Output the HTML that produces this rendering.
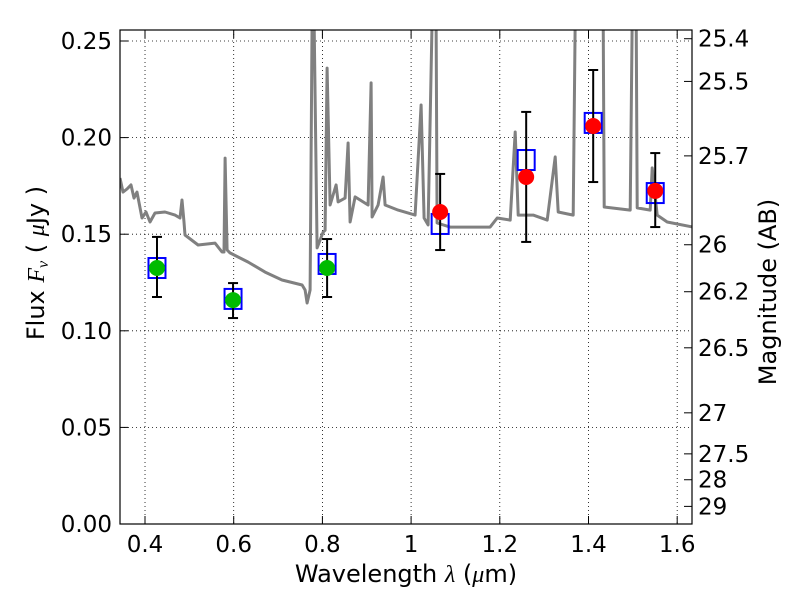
<!DOCTYPE html>
<html><head><meta charset="utf-8"><style>
body{margin:0;background:#fff}
svg text{font-family:"DejaVu Sans","Liberation Sans",sans-serif;fill:#000}
</style></head><body>
<svg id="c" width="800" height="600" xmlns="http://www.w3.org/2000/svg"></svg>
<script>
const xTicks=[0.4,0.6,0.8,1.0,1.2,1.4,1.6];
const xTickLabels=["0.4","0.6","0.8","1","1.2","1.4","1.6"];
const yTicks=[0,0.05,0.10,0.15,0.20,0.25];
const yTickLabels=["0.00","0.05","0.10","0.15","0.20","0.25"];
const magTicks=[25.4,25.5,25.7,26,26.2,26.5,27,27.5,28,29];
const specLam=[0.3436,0.3504,0.3594,0.3684,0.3752,0.3820,0.3932,0.4023,0.4113,0.4226,0.4451,0.4677,0.4790,0.4835,0.4880,0.4902,0.5196,0.5579,0.5737,0.5782,0.5805,0.5850,0.5917,0.6323,0.6707,0.7090,0.7542,0.7609,0.7654,0.7722,0.7767,0.7812,0.7880,0.8015,0.8060,0.8106,0.8173,0.8309,0.8354,0.8512,0.8579,0.8624,0.8737,0.9030,0.9098,0.9121,0.9256,0.9369,0.9414,0.9707,1.0091,1.0226,1.0294,1.0384,1.0474,1.0564,1.0587,1.0880,1.1782,1.1941,1.2234,1.2347,1.2414,1.2753,1.3068,1.3249,1.3316,1.3655,1.3700,1.4332,1.4354,1.4941,1.4986,1.5076,1.5098,1.5392,1.5437,1.5550,1.5775,1.6362];
const specFlux=[0.1791,0.1718,0.1734,0.1755,0.1687,0.1718,0.1584,0.1615,0.1563,0.1610,0.1615,0.1599,0.1584,0.1677,0.1563,0.1496,0.1444,0.1454,0.1408,0.1408,0.1894,0.1418,0.1403,0.1356,0.1304,0.1263,0.1237,0.1211,0.1144,0.1211,0.2609,0.2609,0.1429,0.1511,0.1520,0.2360,0.1651,0.1755,0.1667,0.1687,0.1972,0.1563,0.1693,0.1651,0.2283,0.1589,0.1651,0.1796,0.1651,0.1625,0.1599,0.2169,0.1584,0.1548,0.2609,0.2609,0.1558,0.1537,0.1537,0.1584,0.1573,0.2029,0.1599,0.1599,0.1573,0.1900,0.1615,0.1599,0.2609,0.2609,0.1641,0.1625,0.2609,0.2609,0.1636,0.1625,0.1843,0.1599,0.1563,0.1537];
const obsLam=[0.427,0.5985,0.8106,1.0655,1.2595,1.4106,1.5505];
const obsFlux=[0.1325,0.1159,0.1325,0.1615,0.1796,0.2060,0.1724];
const errHi=[0.1486,0.1247,0.1475,0.1812,0.2133,0.2350,0.1920];
const errLo=[0.1175,0.1066,0.1175,0.1418,0.1460,0.1770,0.1537];
const modelFlux=[0.1325,0.1165,0.1346,0.1553,0.1884,0.2076,0.1713];
const obsColor=["#00bb00","#00bb00","#00bb00","#ff0000","#ff0000","#ff0000","#ff0000"];

const L=120,R=692,T=30,B=524,X0=0.3436,X1=1.6334,Y0=0,Y1=0.2557;
const sx=v=>L+(v-X0)/(X1-X0)*(R-L);
const sy=v=>B-(v-Y0)/(Y1-Y0)*(B-T);
const svg=document.getElementById('c');
const NS="http://www.w3.org/2000/svg";
function mk(tag,at,parent){const e=document.createElementNS(NS,tag);for(const k in at)e.setAttribute(k,at[k]);(parent||svg).appendChild(e);return e;}
const defs=mk('defs',{});
const cp=mk('clipPath',{id:'clip'},defs);
mk('rect',{x:L,y:T,width:R-L,height:B-T},cp);

xTicks.forEach(v=>{const g=mk('line',{x1:sx(v),x2:sx(v),y1:T,y2:B,stroke:'#000','stroke-width':0.8,'stroke-dasharray':'1,3'});

});
yTicks.forEach(v=>{const g=mk('line',{x1:L,x2:R,y1:sy(v),y2:sy(v),stroke:'#000','stroke-width':0.8,'stroke-dasharray':'1,3'});

});

const pts=specLam.map((l,i)=>sx(l).toFixed(1)+','+sy(specFlux[i]).toFixed(1)).join(' ');
const sp=mk('polyline',{points:pts,fill:'none',stroke:'#808080','stroke-width':3,'clip-path':'url(#clip)','stroke-linejoin':'round'});



obsLam.forEach((l,i)=>{
  const x=sx(l);
  const sq=mk('rect',{x:x-8.5,y:sy(modelFlux[i])-10,width:17,height:20,fill:'none',stroke:'#0000ff','stroke-width':2});
  
  
  const g=mk('g',{stroke:'#000','stroke-width':2});
  
  
  mk('line',{x1:x,x2:x,y1:sy(errHi[i]),y2:sy(errLo[i])},g);
  mk('line',{x1:x-5,x2:x+5,y1:sy(errHi[i]),y2:sy(errHi[i])},g);
  mk('line',{x1:x-5,x2:x+5,y1:sy(errLo[i]),y2:sy(errLo[i])},g);
  const c=mk('circle',{cx:x,cy:sy(obsFlux[i]),r:8,fill:obsColor[i]});
  
  
});

const fr=mk('rect',{x:L,y:T,width:R-L,height:B-T,fill:'none',stroke:'#000','stroke-width':1.2});



xTicks.forEach((v,i)=>{const x=sx(v);
  mk('line',{x1:x,x2:x,y1:B,y2:B-8,stroke:'#000'});
  mk('line',{x1:x,x2:x,y1:T,y2:T+8,stroke:'#000'});
  const t=mk('text',{x:x,y:B+28,'text-anchor':'middle','font-size':23});
  t.textContent=xTickLabels[i];
  
  
});
yTicks.forEach((v,i)=>{const y=sy(v);
  mk('line',{x1:L,x2:L+8,y1:y,y2:y,stroke:'#000'});
  const t=mk('text',{x:L-8,y:y+8,'text-anchor':'end','font-size':23});
  t.textContent=yTickLabels[i];
  
  
});
magTicks.forEach(m=>{const f=Math.pow(10,(23.9-m)/2.5);const y=sy(f);
  mk('line',{x1:R,x2:R-8,y1:y,y2:y,stroke:'#000'});
  const t=mk('text',{x:R+6,y:y+8,'text-anchor':'start','font-size':23});
  t.textContent=String(m);
  
  
});
</script>
<svg width="800" height="600" style="position:absolute;left:0;top:0" xmlns="http://www.w3.org/2000/svg">
<text x="406" y="582" text-anchor="middle" font-size="24">Wavelength  <tspan font-style="italic" font-family="Liberation Serif">λ</tspan> (<tspan font-style="italic" font-family="Liberation Serif">μ</tspan>m)</text>
<text transform="translate(44,263) rotate(-90)" text-anchor="middle" font-size="24">Flux  <tspan font-style="italic" font-family="Liberation Serif">F</tspan><tspan font-style="italic" font-family="Liberation Serif" font-size="16" dy="4">ν</tspan><tspan dy="-4">  (  </tspan><tspan font-style="italic" font-family="Liberation Serif">μ</tspan>Jy )</text>
<text transform="translate(776,292) rotate(-90)" text-anchor="middle" font-size="24">Magnitude (AB)</text>
</svg>
</body></html>
